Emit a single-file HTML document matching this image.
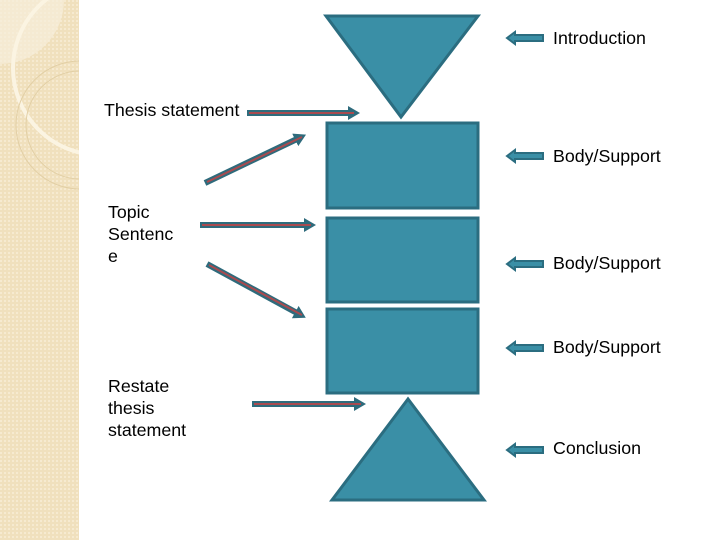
<!DOCTYPE html>
<html><head><style>
body{margin:0;width:720px;height:540px;background:#fff;position:relative;overflow:hidden;font-family:"Liberation Sans",sans-serif;}
.t{position:absolute;font-size:17.8px;color:#000;line-height:22px;}
</style></head><body>
<svg width="720" height="540" style="position:absolute;left:0;top:0">
<defs>
<pattern id="p" width="4" height="4" patternUnits="userSpaceOnUse"><rect width="4" height="4" fill="#f0e0bd"/><rect width="2" height="2" fill="#f6ead0"/></pattern>
<marker id="ah" markerUnits="userSpaceOnUse" markerWidth="12" markerHeight="14" refX="2" refY="7" orient="auto"><path d="M0,0 L12,7 L0,14 Z" fill="#2e6b7c"/></marker>
<clipPath id="c"><rect x="0" y="0" width="79" height="540"/></clipPath>
</defs>
<rect x="0" y="0" width="79" height="540" fill="url(#p)"/>
<g clip-path="url(#c)">
<circle cx="0" cy="0" r="64" fill="#f7eedb" opacity="0.7"/>
<circle cx="100" cy="68" r="87" fill="none" stroke="#fbf4e2" stroke-width="4"/>
<circle cx="80" cy="125" r="64" fill="none" stroke="#e2cfa5" stroke-width="1"/>
<circle cx="80" cy="125" r="54" fill="none" stroke="#e2cfa5" stroke-width="1"/>
</g>
<g fill="#3a8fa6" stroke="#2b6d80" stroke-width="3">
<polygon points="326,16 478,16 401,117"/>
<rect x="327" y="123" width="151" height="85"/>
<rect x="327" y="218" width="151" height="84"/>
<rect x="327" y="309" width="151" height="84"/>
<polygon points="408,399 332,500 484,500"/>
</g>
<g stroke="#2e6b7c" stroke-width="6" fill="none" marker-end="url(#ah)">
<line x1="247" y1="113" x2="350" y2="113"/>
<line x1="205" y1="183" x2="297" y2="139"/>
<line x1="200" y1="225" x2="306" y2="225"/>
<line x1="207" y1="264" x2="297" y2="313"/>
<line x1="252" y1="404" x2="356" y2="404"/>
</g>
<g stroke="#a94a4f" stroke-width="2">
<line x1="249" y1="113" x2="354" y2="113"/>
<line x1="207" y1="182" x2="302" y2="137"/>
<line x1="202" y1="225" x2="311" y2="225"/>
<line x1="209" y1="265" x2="302" y2="315"/>
<line x1="254" y1="404" x2="361" y2="404"/>
</g>
<g fill="#3a8fa6" stroke="#2b6d80" stroke-width="2">
<polygon points="507,38 515,32 515,35 543,35 543,41 515,41 515,44"/>
<polygon points="507,156 515,150 515,153 543,153 543,159 515,159 515,162"/>
<polygon points="507,264 515,258 515,261 543,261 543,267 515,267 515,270"/>
<polygon points="507,348 515,342 515,345 543,345 543,351 515,351 515,354"/>
<polygon points="507,450 515,444 515,447 543,447 543,453 515,453 515,456"/>
</g>
</svg>
<div class="t" style="left:553px;top:27px">Introduction</div>
<div class="t" style="left:553px;top:145px">Body/Support</div>
<div class="t" style="left:553px;top:252px">Body/Support</div>
<div class="t" style="left:553px;top:336px">Body/Support</div>
<div class="t" style="left:553px;top:437px">Conclusion</div>
<div class="t" style="left:104px;top:99px">Thesis statement</div>
<div class="t" style="left:108px;top:201px">Topic<br>Sentenc<br>e</div>
<div class="t" style="left:108px;top:375px">Restate<br>thesis<br>statement</div>
</body></html>
